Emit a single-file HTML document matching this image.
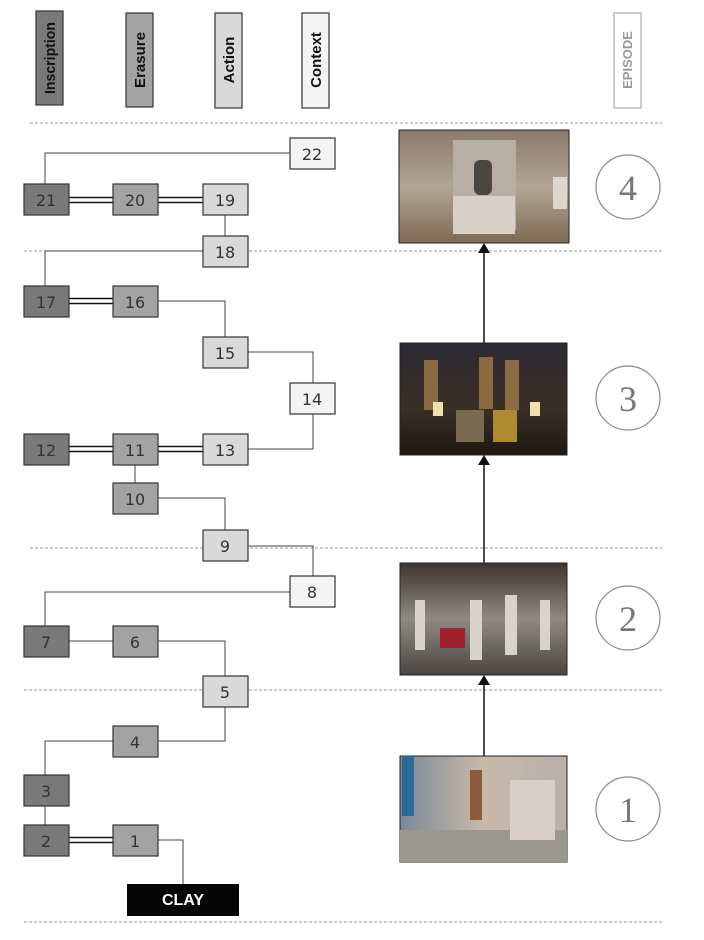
<!DOCTYPE html>
<html><head><meta charset="utf-8"><style>
body{margin:0;width:704px;height:940px;background:#fff;position:relative;overflow:hidden;font-family:"Liberation Sans",sans-serif}
</style></head><body>
<svg width="704" height="940" viewBox="0 0 704 940" xmlns="http://www.w3.org/2000/svg" style="position:absolute;left:0;top:0">
<defs>
<linearGradient id="g4" x1="0" y1="0" x2="0" y2="1"><stop offset="0" stop-color="#8a7a6c"/><stop offset="0.5" stop-color="#b3a595"/><stop offset="1" stop-color="#7d6a55"/></linearGradient>
<linearGradient id="g3" x1="0" y1="0" x2="0" y2="1"><stop offset="0" stop-color="#2b2b33"/><stop offset="0.6" stop-color="#3a2e25"/><stop offset="1" stop-color="#1e1812"/></linearGradient>
<linearGradient id="g2" x1="0" y1="0" x2="0" y2="1"><stop offset="0" stop-color="#3d352d"/><stop offset="0.5" stop-color="#8f8a86"/><stop offset="1" stop-color="#4a4540"/></linearGradient>
<linearGradient id="g1" x1="0" y1="0" x2="1" y2="0"><stop offset="0" stop-color="#7a8a96"/><stop offset="0.5" stop-color="#c9b9aa"/><stop offset="1" stop-color="#b8b0aa"/></linearGradient>
</defs>
<g stroke="#999" stroke-dasharray="3,2" stroke-width="1">
<line x1="30" y1="123" x2="662" y2="123"/><line x1="24" y1="251" x2="662" y2="251"/><line x1="30" y1="548" x2="662" y2="548"/><line x1="24" y1="690" x2="662" y2="690"/><line x1="24" y1="922" x2="662" y2="922"/>
</g>
<g stroke="#333" stroke-width="1.2">
<rect x="36" y="11" width="27" height="94" fill="#7a7a7a"/>
<rect x="126" y="13" width="27" height="94" fill="#a3a3a3"/>
<rect x="215" y="13" width="27" height="95" fill="#d9d9d9"/>
<rect x="302" y="13" width="27" height="95" fill="#f4f4f4"/>
</g>
<rect x="614" y="13" width="27" height="95" fill="#fff" stroke="#aaa" stroke-width="1.2"/>
<g font-family="Liberation Sans,sans-serif" font-weight="bold" font-size="15" text-anchor="middle">
<text transform="translate(55,58) rotate(-90)" fill="#111" textLength="72" lengthAdjust="spacingAndGlyphs">Inscription</text>
<text transform="translate(145,60) rotate(-90)" fill="#111">Erasure</text>
<text transform="translate(234,60) rotate(-90)" fill="#111">Action</text>
<text transform="translate(321,60) rotate(-90)" fill="#111">Context</text>
<text transform="translate(632,60) rotate(-90)" fill="#999" font-size="13">EPISODE</text>
</g>
<g stroke="#444" stroke-width="1" fill="none">
<polyline points="290,153 45,153 45,184"/>
<line x1="225" y1="215" x2="225" y2="236"/>
<polyline points="203,251 45,251 45,286"/>
<polyline points="158,301 225,301 225,337"/>
<polyline points="248,352 313,352 313,383"/>
<polyline points="313,414 313,449 248,449"/>
<line x1="135" y1="465" x2="135" y2="483"/>
<polyline points="158,498 225,498 225,530"/>
<polyline points="248,546 313,546 313,576"/>
<polyline points="290,592 45,592 45,626"/>
<line x1="69" y1="641" x2="113" y2="641"/>
<polyline points="158,641 225,641 225,676"/>
<polyline points="225,707 225,741 158,741"/>
<polyline points="113,741 45,741 45,775"/>
<line x1="45" y1="806" x2="45" y2="825"/>
<polyline points="158,840 183,840 183,884"/>
</g>
<g stroke="#111" stroke-width="1.6">
<line x1="69" y1="197.5" x2="113" y2="197.5"/><line x1="69" y1="202.5" x2="113" y2="202.5"/>
<line x1="158" y1="197.5" x2="203" y2="197.5"/><line x1="158" y1="202.5" x2="203" y2="202.5"/>
<line x1="69" y1="298.5" x2="113" y2="298.5"/><line x1="69" y1="303.5" x2="113" y2="303.5"/>
<line x1="69" y1="446.5" x2="113" y2="446.5"/><line x1="69" y1="451.5" x2="113" y2="451.5"/>
<line x1="158" y1="446.5" x2="203" y2="446.5"/><line x1="158" y1="451.5" x2="203" y2="451.5"/>
<line x1="69" y1="837.5" x2="113" y2="837.5"/><line x1="69" y1="842.5" x2="113" y2="842.5"/>
</g>
<g stroke="#333" stroke-width="1.2">
<rect x="290" y="138" width="45" height="31" fill="#f4f4f4"/>
<rect x="24" y="184" width="45" height="31" fill="#7a7a7a"/>
<rect x="113" y="184" width="45" height="31" fill="#a3a3a3"/>
<rect x="203" y="184" width="45" height="31" fill="#d9d9d9"/>
<rect x="203" y="236" width="45" height="31" fill="#d9d9d9"/>
<rect x="24" y="286" width="45" height="31" fill="#7a7a7a"/>
<rect x="113" y="286" width="45" height="31" fill="#a3a3a3"/>
<rect x="203" y="337" width="45" height="31" fill="#d9d9d9"/>
<rect x="290" y="383" width="45" height="31" fill="#f4f4f4"/>
<rect x="24" y="434" width="45" height="31" fill="#7a7a7a"/>
<rect x="113" y="434" width="45" height="31" fill="#a3a3a3"/>
<rect x="203" y="434" width="45" height="31" fill="#d9d9d9"/>
<rect x="113" y="483" width="45" height="31" fill="#a3a3a3"/>
<rect x="203" y="530" width="45" height="31" fill="#d9d9d9"/>
<rect x="290" y="576" width="45" height="31" fill="#f4f4f4"/>
<rect x="24" y="626" width="45" height="31" fill="#7a7a7a"/>
<rect x="113" y="626" width="45" height="31" fill="#a3a3a3"/>
<rect x="203" y="676" width="45" height="31" fill="#d9d9d9"/>
<rect x="113" y="726" width="45" height="31" fill="#a3a3a3"/>
<rect x="24" y="775" width="45" height="31" fill="#7a7a7a"/>
<rect x="24" y="825" width="45" height="31" fill="#7a7a7a"/>
<rect x="113" y="825" width="45" height="31" fill="#a3a3a3"/>
</g>
<rect x="127" y="884" width="112" height="32" fill="#050505"/>
<g font-family="DejaVu Sans,sans-serif" font-size="16" fill="#333" text-anchor="middle">
<text x="312" y="160">22</text>
<text x="46" y="206">21</text><text x="135" y="206">20</text><text x="225" y="206">19</text>
<text x="225" y="258">18</text>
<text x="46" y="308">17</text><text x="135" y="308">16</text>
<text x="225" y="359">15</text>
<text x="312" y="405">14</text>
<text x="46" y="456">12</text><text x="135" y="456">11</text><text x="225" y="456">13</text>
<text x="135" y="505">10</text>
<text x="225" y="552">9</text>
<text x="312" y="598">8</text>
<text x="46" y="648">7</text><text x="135" y="648">6</text>
<text x="225" y="698">5</text>
<text x="135" y="748">4</text>
<text x="46" y="797">3</text>
<text x="46" y="847">2</text><text x="135" y="847">1</text>
</g>
<text x="183" y="905" font-family="Liberation Sans,sans-serif" font-weight="bold" font-size="16" fill="#fff" text-anchor="middle">CLAY</text>
<g stroke="#111" stroke-width="1.5">
<line x1="484" y1="563" x2="484" y2="464"/>
<line x1="484" y1="343" x2="484" y2="252"/>
<line x1="484" y1="756" x2="484" y2="684"/>
</g>
<g fill="#111">
<path d="M478,465 L484,455 L490,465 Z"/>
<path d="M478,253 L484,243 L490,253 Z"/>
<path d="M478,685 L484,675 L490,685 Z"/>
</g>
<rect x="399" y="130" width="170" height="113" fill="url(#g4)" stroke="#222"/>
<rect x="453" y="140" width="63" height="90" fill="#b8aea3"/>
<rect x="453" y="196" width="62" height="38" fill="#d8d0c6"/>
<rect x="474" y="160" width="18" height="35" rx="6" fill="#4a4640"/>
<rect x="553" y="177" width="14" height="32" fill="#ddd6cc"/>
<rect x="400" y="343" width="167" height="112" fill="url(#g3)" stroke="#222"/>
<g fill="#8a6a40"><rect x="424" y="360" width="14" height="50"/><rect x="479" y="357" width="14" height="52"/><rect x="505" y="360" width="14" height="50"/></g>
<rect x="456" y="410" width="28" height="32" fill="#7a6a50"/><rect x="493" y="410" width="24" height="32" fill="#b08a30"/>
<rect x="433" y="402" width="10" height="14" fill="#f0e0b0"/><rect x="530" y="402" width="10" height="14" fill="#f0e0b0"/>
<rect x="400" y="563" width="167" height="112" fill="url(#g2)" stroke="#222"/>
<rect x="440" y="628" width="25" height="20" fill="#a02030"/>
<g fill="#d8d4cc"><rect x="415" y="600" width="10" height="50"/><rect x="470" y="600" width="12" height="60"/><rect x="505" y="595" width="12" height="60"/><rect x="540" y="600" width="10" height="50"/></g>
<rect x="400" y="756" width="167" height="106" fill="url(#g1)" stroke="#222"/>
<rect x="400" y="830" width="167" height="32" fill="#9a9690"/>
<rect x="510" y="780" width="45" height="60" fill="#d8d0c8"/>
<rect x="470" y="770" width="12" height="50" fill="#8a5a3a"/>
<rect x="402" y="756" width="12" height="60" fill="#2a6a9a"/>
<g fill="#fff" stroke="#888" stroke-width="1.2"><circle cx="628" cy="187" r="32"/><circle cx="628" cy="398" r="32"/><circle cx="628" cy="618" r="32"/><circle cx="628" cy="809" r="32"/></g>
<g font-family="Liberation Serif,serif" font-size="36" fill="#777" text-anchor="middle">
<text x="628" y="200">4</text><text x="628" y="411">3</text><text x="628" y="631">2</text><text x="628" y="822">1</text>
</g>
</svg>
</body></html>
